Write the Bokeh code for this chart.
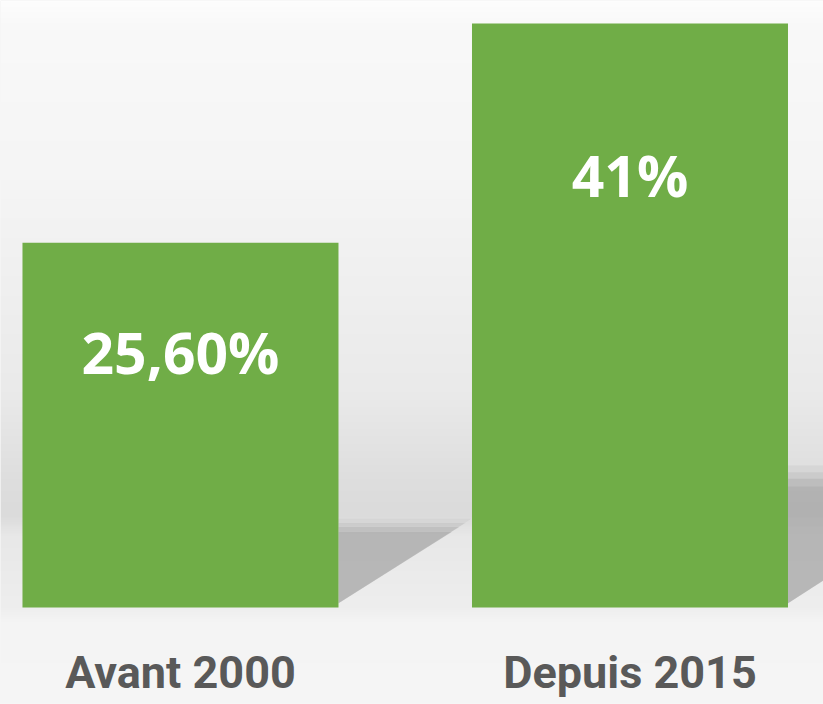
import numpy as np
from bokeh.plotting import figure
from bokeh.models import Range1d, ColumnDataSource
from bokeh.core.properties import value
from bokeh.embed import file_html
from bokeh.resources import INLINE

# ---- data ----
categories = ["Avant 2000", "Depuis 2015"]
values = [25.6, 41.0]
value_labels = ["25,60%", "41%"]

# ---- layout ----
W, H = 823, 704
x_start, x_end = -0.4004, 1.4305
y_start, y_end = -6.81, 42.61
bar_width = 0.703
label_frac = [0.70, 0.74]   # label height as share of bar height

p = figure(width=W, height=H, output_backend="svg", toolbar_location=None,
           x_range=Range1d(x_start, x_end), y_range=Range1d(y_start, y_end),
           min_border=0)
p.axis.visible = False
p.grid.visible = False
p.outline_line_color = None
p.background_fill_color = "#eeeeee"
p.border_fill_color = "#ffffff"

# vertical background gradient (decorative), spanning the y range
n = 400
ys = np.linspace(y_start, y_end, n)
stops_y = [y_start, -1.0, 0.0, 5.0, 6.5, 9.0, 15.0, 30.0, 41.0, y_end]
stops_g = [246, 244, 238, 232, 219, 222, 234, 245, 249, 253]
g = np.interp(ys, stops_y, stops_g).astype(np.uint32)
img = np.empty((n, 1), dtype=np.uint32)
view = img.view(dtype=np.uint8).reshape((n, 1, 4))
view[:, :, 0] = g[:, None]
view[:, :, 1] = g[:, None]
view[:, :, 2] = g[:, None]
view[:, :, 3] = 255
p.image_rgba(image=[img], x=x_start, y=y_start, dw=x_end - x_start, dh=y_end - y_start)

xs = list(range(len(categories)))

# soft shadows to the right of each bar, derived from bar heights
px_per_x = W / (x_end - x_start)
px_per_y = H / (y_end - y_start)
for scale, alpha in [(1.08, 0.12), (1.03, 0.2), (0.98, 0.3), (0.92, 0.35)]:
    sx, sy = [], []
    for xi, v in zip(xs, values):
        xr = xi + bar_width / 2
        h = 0.225 * v * scale
        d = 1.5 * h * px_per_y / px_per_x
        sx.append([xr, xr, xr + d])
        sy.append([0.3, h, h])
    p.patches(sx, sy, fill_color="#a0a0a0", fill_alpha=alpha, line_color=None)

src = ColumnDataSource(dict(x=xs, top=values, cat=categories, lab=value_labels,
                            lab_y=[v * f for v, f in zip(values, label_frac)],
                            cat_y=[y_start * 0.67] * len(xs)))

p.vbar(x="x", top="top", bottom=0, width=bar_width, source=src,
       fill_color="#70ad47", line_color=None)

p.text(x="x", y="lab_y", text="lab", source=src, text_color="white",
       text_font=value("Open Sans"), text_font_style="bold",
       text_font_size="57px", text_align="center", text_baseline="middle")

p.text(x="x", y="cat_y", text="cat", source=src, text_color="#595959",
       text_font=value("Roboto"), text_font_style="bold",
       text_font_size="45px", text_align="center", text_baseline="middle")

open("out.html", "w").write(file_html(p, INLINE))
